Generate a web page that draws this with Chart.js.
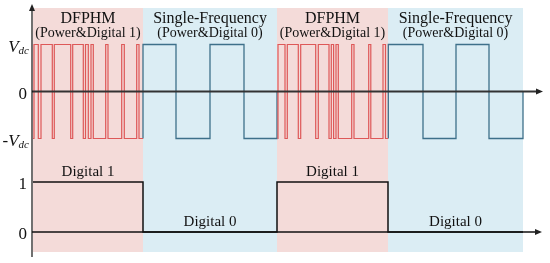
<!DOCTYPE html>
<html><head><meta charset="utf-8">
<script src="https://cdn.jsdelivr.net/npm/chart.js@4.4.1/dist/chart.umd.min.js"></script>
<style>html,body{margin:0;padding:0;background:#fff;overflow:hidden}canvas{display:block}</style>
</head><body>
<canvas id="c" width="550" height="263" style="width:550px;height:263px"></canvas>
<script>
// ---- data (time in arbitrary units, origin at the vertical axis) ----
const segmentStarts = [0, 110, 244, 355];
const segmentEnds = [110, 244, 355, 490];
const segmentKinds = ['dfphm', 'single', 'dfphm', 'single'];
const segmentTitles = ['DFPHM', 'Single-Frequency', 'DFPHM', 'Single-Frequency'];
const segmentSubtitles = ['(Power&Digital 1)', '(Power&Digital 0)', '(Power&Digital 1)', '(Power&Digital 0)'];
const digitalLabels = ['Digital 1', 'Digital 0', 'Digital 1', 'Digital 0'];

// DFPHM waveform (level reached at each switching instant), in units of Vdc
const dfphm1T = [0, 1, 5.3, 8, 19.3, 21.3, 37.7, 39.7, 50.3, 52.5, 55.3, 58, 60.3, 72.7, 75, 88.7, 91.3, 103.7, 106, 110];
const dfphm1V = [-1, 1, -1, 1, -1, 1, -1, 1, -1, 1, -1, 1, -1, 1, -1, 1, -1, 1, -1, -1];
const dfphm2T = [244.5, 245, 252, 254.3, 265.3, 267.7, 282.7, 285.3, 296, 298.3, 300.6, 303, 305.3, 318.7, 321, 335.7, 337.8, 350, 352.5, 355];
const dfphm2V = [-1, 1, -1, 1, -1, 1, -1, 1, -1, 1, -1, 1, -1, 1, -1, 1, -1, 1, -1, -1];

// Single-frequency square wave
const single1T = [110, 110, 143, 177, 211, 244];
const single1V = [-1, 1, -1, 1, -1, 0];
const single2T = [355.3, 355.3, 390, 423, 456, 490];
const single2V = [-1, 1, -1, 1, -1, 0];

// Digital signal
const digitalT = [0, 110, 244, 355, 490];
const digitalV = [1, 0, 1, 0, 0];

// tick labels
const topTickValues = [1, 0, -1];
const topTickLabels = ['Vdc', '0', '-Vdc'];
const bottomTickValues = [1, 0];
const bottomTickLabels = ['1', '0'];

const toPts = (T, V) => T.map((t, i) => ({x: t, y: V[i]}));

const RED = 'rgb(222,88,88)';
const BLUE = 'rgb(62,112,138)';
const PINK = 'rgb(244,219,217)';
const LIGHTBLUE = 'rgb(219,237,244)';
const SERIF = '"Liberation Serif", "DejaVu Serif", serif';

function arrowRight(ctx, x, y) {
  ctx.beginPath(); ctx.moveTo(x, y); ctx.lineTo(x - 7, y - 3); ctx.lineTo(x - 7, y + 3); ctx.closePath(); ctx.fill();
}
function arrowUp(ctx, x, y) {
  ctx.beginPath(); ctx.moveTo(x, y); ctx.lineTo(x - 3, y + 7); ctx.lineTo(x + 3, y + 7); ctx.closePath(); ctx.fill();
}
function drawVdc(ctx, xr, y, neg) {
  const parts = [];
  if (neg) parts.push({t: '-', f: '17px ' + SERIF, dy: 0});
  parts.push({t: 'V', f: 'italic 17px ' + SERIF, dy: 0});
  parts.push({t: 'dc', f: 'italic 11px ' + SERIF, dy: 4});
  let w = 0;
  parts.forEach(p => { ctx.font = p.f; p.w = ctx.measureText(p.t).width; w += p.w; });
  let x = xr - w;
  ctx.textAlign = 'left';
  parts.forEach(p => { ctx.font = p.f; ctx.fillText(p.t, x, y + p.dy); x += p.w; });
}

const decor = {
  id: 'decor',
  beforeDatasetsDraw(chart) {
    const {ctx, chartArea: a, scales: {x}} = chart;
    ctx.save();
    segmentStarts.forEach((s, i) => {
      const x0 = x.getPixelForValue(s), x1 = x.getPixelForValue(segmentEnds[i]);
      ctx.fillStyle = segmentKinds[i] === 'dfphm' ? PINK : LIGHTBLUE;
      ctx.fillRect(x0, a.top, x1 - x0, a.bottom - a.top);
    });
    ctx.restore();
  },
  afterDatasetsDraw(chart) {
    const {ctx, chartArea: a, scales: {x, yV, yD}} = chart;
    ctx.save();
    const x0 = x.getPixelForValue(-1);
    const xEnd = a.right;
    // top zero axis
    const yz = yV.getPixelForValue(0);
    ctx.strokeStyle = '#333'; ctx.fillStyle = '#222'; ctx.lineWidth = 2;
    ctx.beginPath(); ctx.moveTo(x0, yz); ctx.lineTo(xEnd - 5, yz); ctx.stroke();
    arrowRight(ctx, xEnd, yz);
    // bottom zero axis
    const yb = yD.getPixelForValue(0);
    ctx.strokeStyle = '#111'; ctx.lineWidth = 1.5;
    ctx.beginPath(); ctx.moveTo(x0, yb); ctx.lineTo(xEnd - 5, yb); ctx.stroke();
    arrowRight(ctx, xEnd - 1, yb);
    // vertical axis
    ctx.lineWidth = 1.2; ctx.strokeStyle = '#111';
    ctx.beginPath(); ctx.moveTo(x0, a.bottom + 5); ctx.lineTo(x0, a.top - 1); ctx.stroke();
    arrowUp(ctx, x0, a.top - 4);

    // tick labels
    ctx.fillStyle = '#111'; ctx.textBaseline = 'middle';
    topTickValues.forEach((v, i) => {
      const y = yV.getPixelForValue(v) + 3;
      const lab = topTickLabels[i];
      if (lab.indexOf('Vdc') >= 0) drawVdc(ctx, 29, y, lab[0] === '-');
      else { ctx.font = '17px ' + SERIF; ctx.textAlign = 'right'; ctx.fillText(lab, 27, y); }
    });
    bottomTickValues.forEach((v, i) => {
      const y = yD.getPixelForValue(v) + 3;
      ctx.font = '17px ' + SERIF; ctx.textAlign = 'right'; ctx.fillText(bottomTickLabels[i], 27, y);
    });

    // segment titles
    ctx.textAlign = 'center'; ctx.textBaseline = 'alphabetic';
    segmentStarts.forEach((s, i) => {
      const cx = (x.getPixelForValue(s) + x.getPixelForValue(segmentEnds[i])) / 2;
      ctx.font = '16px ' + SERIF;
      ctx.fillText(segmentTitles[i], cx, a.top + 15);
      ctx.font = '14px ' + SERIF;
      ctx.fillText(segmentSubtitles[i], cx, a.top + 29);
      const lvl = digitalLabels[i].endsWith('1') ? 1 : 0;
      ctx.font = '15px ' + SERIF;
      ctx.fillText(digitalLabels[i], cx, yD.getPixelForValue(lvl) - 6);
    });
    ctx.restore();
  }
};

new Chart(document.getElementById('c'), {
  type: 'line',
  data: {
    datasets: [
      {data: toPts(dfphm1T, dfphm1V), borderColor: RED, borderWidth: 1.2, stepped: 'before', pointRadius: 0, yAxisID: 'yV'},
      {data: toPts(dfphm2T, dfphm2V), borderColor: RED, borderWidth: 1.2, stepped: 'before', pointRadius: 0, yAxisID: 'yV'},
      {data: toPts(single1T, single1V), borderColor: BLUE, borderWidth: 1.3, stepped: 'before', pointRadius: 0, yAxisID: 'yV'},
      {data: toPts(single2T, single2V), borderColor: BLUE, borderWidth: 1.3, stepped: 'before', pointRadius: 0, yAxisID: 'yV'},
      {data: toPts(digitalT, digitalV), borderColor: '#111', borderWidth: 1.5, stepped: 'before', pointRadius: 0, yAxisID: 'yD'}
    ]
  },
  options: {
    responsive: false, animation: false, devicePixelRatio: 1,
    layout: {padding: {left: 32, right: 7, top: 8, bottom: 11}},
    plugins: {legend: {display: false}, tooltip: {enabled: false}, title: {display: false}},
    events: [],
    scales: {
      x: {type: 'linear', display: false, min: -1, max: 510},
      yV: {type: 'linear', display: false, min: -3.415, max: 1.7766},
      yD: {type: 'linear', display: false, min: -0.4, max: 4.48}
    }
  },
  plugins: [decor]
});
</script>
</body></html>
